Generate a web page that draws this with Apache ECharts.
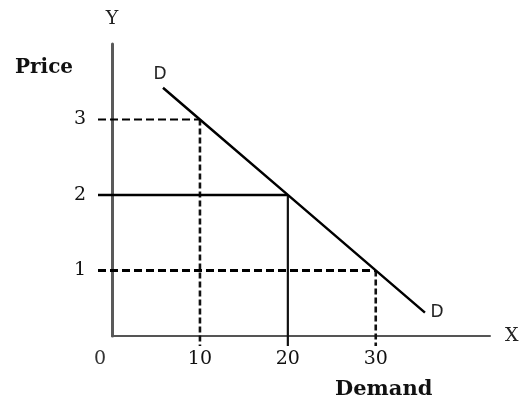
<!DOCTYPE html>
<html>
<head>
<meta charset="utf-8">
<script src="https://cdn.jsdelivr.net/npm/echarts@6/dist/echarts.min.js"></script>
<style>
  html, body { margin: 0; padding: 0; background: #fff; }
  #chart { width: 526px; height: 400px; }
</style>
</head>
<body>
<div id="chart"></div>
<script>
// 需求曲线示意图

// 数据
const curveX = [5.8, 10, 20, 30, 35.6];
const curveY = [3.42, 3, 2, 1, 0.44];
const curveLabels = ['D', '', '', '', 'D'];
const refX = [10, 20, 30];
const refY = [3, 2, 1];
const refStyle = ['dashed', 'solid', 'dashed'];
const xTicks = [0, 10, 20, 30];
const yTicks = [1, 2, 3];

const serif = 'DejaVu Serif';

let chart = echarts.init(document.getElementById('chart'));

// 参考线放在第二个网格里（比坐标轴多出一点，越过价格轴和需求轴）
let refSeries = [];
refX.forEach(function (x, i) {
    let solid = refStyle[i] === 'solid';
    // 水平段：价格轴 -> 曲线
    refSeries.push({
        type: 'line',
        xAxisIndex: 1,
        yAxisIndex: 1,
        symbol: 'none',
        silent: true,
        lineStyle: {
            color: '#000',
            width: solid ? 2.5 : (i === 2 ? 3 : 2.2),
            type: solid ? 'solid' : [8, 4]
        },
        data: [[-1.6, refY[i]], [x, refY[i]]],
        z: 3
    });
    // 垂直段：曲线 -> 需求轴
    refSeries.push({
        type: 'line',
        xAxisIndex: 1,
        yAxisIndex: 1,
        symbol: 'none',
        silent: true,
        lineStyle: {
            color: '#111',
            width: solid ? 2.2 : 2.6,
            type: solid ? 'solid' : [6, 3]
        },
        data: [[x, refY[i]], [x, 0]],
        z: 3
    });
});

let curveData = curveX.map(function (x, i) {
    let item = { value: [x, curveY[i]] };
    if (curveLabels[i]) {
        item.label = {
            show: true,
            formatter: curveLabels[i],
            position: i === 0 ? 'top' : 'right',
            distance: i === 0 ? 4 : 5,
            offset: i === 0 ? [-3, 0] : [0, 0],
            fontFamily: 'DejaVu Sans',
            fontSize: 17,
            color: '#222'
        };
    }
    return item;
});

let hiddenAxis = {
    show: false,
    type: 'value',
    gridIndex: 1,
    axisLine: { show: false },
    axisTick: { show: false },
    axisLabel: { show: false },
    splitLine: { show: false }
};

let option = {
    animation: false,
    title: [
        { text: 'Price', left: 10, top: 53,
          textStyle: { fontFamily: serif, fontSize: 20, fontWeight: 'bold', color: '#111' } },
        { text: 'Demand', left: 330, top: 374,
          textStyle: { fontFamily: serif, fontSize: 21, fontWeight: 'bold', color: '#111' } }
    ],
    grid: [
        { left: 112, right: 36, top: 44, bottom: 64 },
        { left: 98, right: 36, top: 44, bottom: 54 }
    ],
    xAxis: [{
        type: 'value',
        gridIndex: 0,
        min: 0,
        max: 43,
        name: 'X',
        nameLocation: 'end',
        nameGap: 15,
        nameTextStyle: { fontFamily: serif, fontSize: 19, color: '#222', verticalAlign: 'middle' },
        axisLine: { show: true, lineStyle: { color: '#555', width: 2 } },
        axisTick: { show: false },
        splitLine: { show: false },
        axisLabel: {
            customValues: xTicks,
            margin: 14,
            fontFamily: serif,
            fontSize: 19,
            color: '#111',
            formatter: function (v) { return v === 0 ? '{zero|0}' : String(v); },
            rich: { zero: { fontFamily: serif, fontSize: 19, color: '#333', padding: [0, 24, 0, 0] } }
        }
    }, Object.assign({}, hiddenAxis, { min: -1.6, max: 43 })],
    yAxis: [{
        type: 'value',
        gridIndex: 0,
        min: 0.13,
        max: 4,
        name: 'Y',
        nameLocation: 'end',
        nameGap: 15,
        nameTextStyle: { fontFamily: serif, fontSize: 19, color: '#222' },
        axisLine: { show: true, lineStyle: { color: '#5a5a5a', width: 3 } },
        axisTick: { show: false },
        splitLine: { show: false },
        axisLabel: {
            customValues: yTicks,
            margin: 26,
            fontFamily: serif,
            fontSize: 19,
            color: '#111'
        }
    }, Object.assign({}, hiddenAxis, { min: 0, max: 4 })],
    series: refSeries.concat([{
        type: 'line',
        xAxisIndex: 0,
        yAxisIndex: 0,
        symbol: 'circle',
        symbolSize: 1,
        showSymbol: true,
        itemStyle: { color: 'transparent' },
        silent: true,
        lineStyle: { color: '#000', width: 2.5 },
        data: curveData,
        z: 4
    }])
};

chart.setOption(option);
</script>
</body>
</html>
